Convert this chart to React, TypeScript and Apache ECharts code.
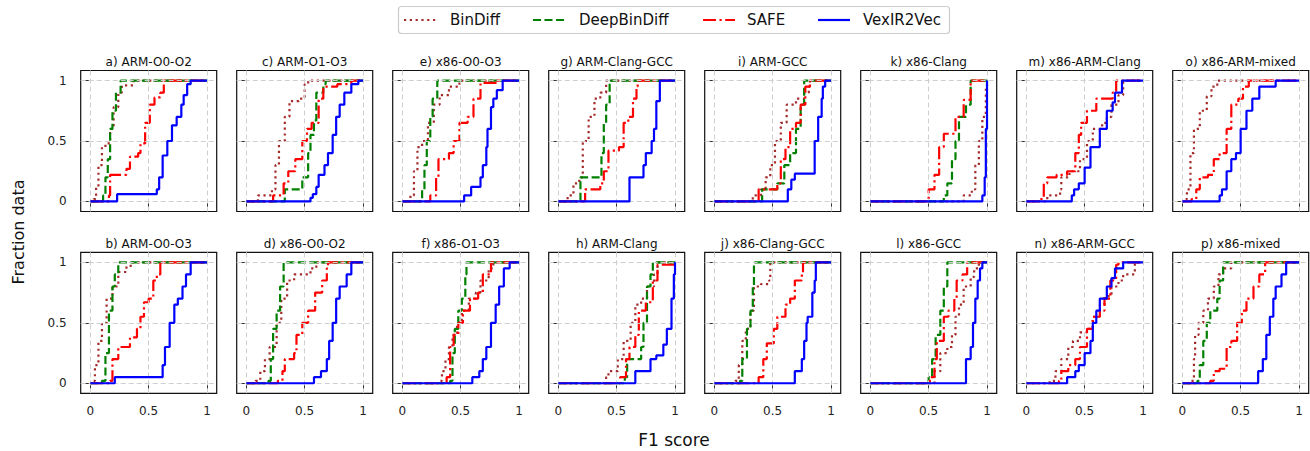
import React, { useEffect, useRef } from 'react';
import * as echarts from 'echarts';

type Pt = [number, number];

const METHODS = ['BinDiff', 'DeepBinDiff', 'SAFE', 'VexIR2Vec'];
const TOP_TITLES = ['a) ARM-O0-O2', 'c) ARM-O1-O3', 'e) x86-O0-O3', 'g) ARM-Clang-GCC', 'i) ARM-GCC', 'k) x86-Clang', 'm) x86-ARM-Clang', 'o) x86-ARM-mixed'];
const BOTTOM_TITLES = ['b) ARM-O0-O3', 'd) x86-O0-O2', 'f) x86-O1-O3', 'h) ARM-Clang', 'j) x86-Clang-GCC', 'l) x86-GCC', 'n) x86-ARM-GCC', 'p) x86-mixed'];
const TICKS = [0, 0.5, 1];
const TICK_LABELS = ['0', '0.5', '1'];

// ---- CDF breakpoints [F1 score, fraction] (each curve starts at (0,0) and ends at (1,1)) ----
const a_BinDiff: Pt[] = [[0.03, 0.02], [0.05, 0.12], [0.07, 0.3], [0.1, 0.45], [0.13, 0.48], [0.17, 0.6], [0.2, 0.78], [0.24, 0.9], [0.27, 0.96], [0.37, 1]];
const a_DeepBinDiff: Pt[] = [[0.11, 0.05], [0.13, 0.2], [0.15, 0.35], [0.17, 0.6], [0.19, 0.75], [0.22, 0.9], [0.26, 1]];
const a_SAFE: Pt[] = [[0.16, 0.05], [0.17, 0.22], [0.31, 0.27], [0.34, 0.37], [0.41, 0.4], [0.43, 0.48], [0.47, 0.65], [0.51, 0.8], [0.55, 0.86], [0.6, 0.9], [0.63, 1]];
const a_VexIR2Vec: Pt[] = [[0.23, 0.06], [0.57, 0.1], [0.59, 0.2], [0.62, 0.38], [0.66, 0.5], [0.7, 0.63], [0.74, 0.7], [0.78, 0.8], [0.8, 0.88], [0.83, 0.97], [0.86, 1]];

const c_BinDiff: Pt[] = [[0.1, 0.05], [0.22, 0.1], [0.25, 0.3], [0.28, 0.5], [0.33, 0.7], [0.37, 0.83], [0.45, 0.85], [0.5, 0.97], [0.53, 1]];
const c_DeepBinDiff: Pt[] = [[0.33, 0.1], [0.48, 0.2], [0.53, 0.4], [0.55, 0.55], [0.58, 0.67], [0.6, 0.9], [0.66, 0.97], [0.68, 1]];
const c_SAFE: Pt[] = [[0.23, 0.05], [0.32, 0.15], [0.36, 0.25], [0.42, 0.35], [0.48, 0.5], [0.52, 0.6], [0.56, 0.65], [0.62, 0.85], [0.66, 0.95], [0.78, 0.97], [0.9, 1]];
const c_VexIR2Vec: Pt[] = [[0.55, 0.03], [0.57, 0.06], [0.6, 0.12], [0.62, 0.22], [0.67, 0.3], [0.7, 0.4], [0.74, 0.55], [0.77, 0.7], [0.8, 0.8], [0.84, 0.9], [0.9, 0.97], [0.96, 1]];

const e_BinDiff: Pt[] = [[0.07, 0.05], [0.1, 0.25], [0.13, 0.45], [0.17, 0.5], [0.22, 0.65], [0.27, 0.8], [0.32, 0.88], [0.4, 0.95], [0.49, 1]];
const e_DeepBinDiff: Pt[] = [[0.17, 0.1], [0.19, 0.3], [0.21, 0.5], [0.24, 0.7], [0.26, 0.85], [0.3, 1]];
const e_SAFE: Pt[] = [[0.24, 0.05], [0.29, 0.2], [0.31, 0.35], [0.4, 0.4], [0.44, 0.5], [0.49, 0.65], [0.56, 0.7], [0.61, 0.85], [0.67, 0.98], [0.81, 1]];
const e_VexIR2Vec: Pt[] = [[0.53, 0.05], [0.59, 0.12], [0.67, 0.2], [0.69, 0.3], [0.72, 0.45], [0.73, 0.6], [0.76, 0.78], [0.78, 0.85], [0.81, 0.92], [0.86, 1]];

const g_BinDiff: Pt[] = [[0.08, 0.05], [0.13, 0.15], [0.18, 0.2], [0.21, 0.5], [0.26, 0.7], [0.31, 0.85], [0.36, 0.9], [0.41, 1]];
const g_DeepBinDiff: Pt[] = [[0.19, 0.2], [0.37, 0.4], [0.39, 0.65], [0.41, 0.8], [0.44, 1]];
const g_SAFE: Pt[] = [[0.23, 0.1], [0.36, 0.15], [0.39, 0.25], [0.43, 0.42], [0.52, 0.45], [0.56, 0.65], [0.6, 0.7], [0.64, 0.85], [0.67, 0.95], [0.68, 1]];
const g_VexIR2Vec: Pt[] = [[0.61, 0.2], [0.73, 0.3], [0.75, 0.4], [0.8, 0.5], [0.82, 0.6], [0.84, 0.83], [0.87, 1]];

const i_BinDiff: Pt[] = [[0.33, 0.05], [0.4, 0.1], [0.44, 0.2], [0.48, 0.3], [0.52, 0.5], [0.57, 0.65], [0.62, 0.8], [0.7, 0.85], [0.77, 0.9], [0.81, 0.95], [0.82, 1]];
const i_DeepBinDiff: Pt[] = [[0.41, 0.1], [0.54, 0.15], [0.6, 0.3], [0.65, 0.4], [0.7, 0.6], [0.74, 0.8], [0.77, 1]];
const i_SAFE: Pt[] = [[0.38, 0.1], [0.54, 0.15], [0.57, 0.35], [0.61, 0.45], [0.65, 0.6], [0.7, 0.65], [0.74, 0.8], [0.78, 0.95], [0.82, 1]];
const i_VexIR2Vec: Pt[] = [[0.63, 0.1], [0.66, 0.18], [0.69, 0.23], [0.86, 0.5], [0.89, 0.7], [0.92, 0.85], [0.93, 0.95], [0.95, 1]];

const k_BinDiff: Pt[] = [[0.8, 0.05], [0.87, 0.1], [0.9, 0.3], [0.93, 0.5], [0.96, 0.7], [0.99, 0.95], [1, 1]];
const k_DeepBinDiff: Pt[] = [[0.63, 0.05], [0.66, 0.15], [0.7, 0.35], [0.73, 0.5], [0.76, 0.7], [0.82, 0.8], [0.86, 1]];
const k_SAFE: Pt[] = [[0.5, 0.1], [0.55, 0.22], [0.59, 0.45], [0.63, 0.56], [0.73, 0.7], [0.8, 0.84], [0.86, 1]];
const k_VexIR2Vec: Pt[] = [[0.96, 0.05], [0.98, 0.2], [0.99, 0.6], [1, 1]];

const m_BinDiff: Pt[] = [[0.18, 0.05], [0.29, 0.1], [0.3, 0.2], [0.37, 0.25], [0.46, 0.35], [0.52, 0.5], [0.57, 0.6], [0.65, 0.65], [0.69, 0.7], [0.73, 0.8], [0.79, 0.88], [0.83, 1]];
const m_SAFE: Pt[] = [[0.1, 0.02], [0.15, 0.15], [0.18, 0.2], [0.26, 0.22], [0.35, 0.25], [0.42, 0.4], [0.45, 0.55], [0.47, 0.65], [0.52, 0.75], [0.6, 0.85], [0.74, 0.9], [0.77, 1]];
const m_VexIR2Vec: Pt[] = [[0.39, 0.05], [0.41, 0.1], [0.45, 0.15], [0.5, 0.28], [0.55, 0.45], [0.63, 0.6], [0.69, 0.75], [0.74, 0.82], [0.76, 0.9], [0.82, 1]];

const o_BinDiff: Pt[] = [[0.02, 0.02], [0.04, 0.1], [0.07, 0.4], [0.1, 0.6], [0.15, 0.75], [0.21, 0.87], [0.25, 0.95], [0.3, 1]];
const o_SAFE: Pt[] = [[0.08, 0.02], [0.12, 0.1], [0.15, 0.2], [0.22, 0.22], [0.27, 0.35], [0.32, 0.4], [0.38, 0.6], [0.42, 0.8], [0.48, 0.85], [0.52, 0.95], [0.57, 1]];
const o_VexIR2Vec: Pt[] = [[0.32, 0.05], [0.34, 0.1], [0.38, 0.25], [0.42, 0.35], [0.46, 0.4], [0.5, 0.6], [0.55, 0.75], [0.6, 0.85], [0.66, 0.95], [0.8, 1]];

const b_BinDiff: Pt[] = [[0.01, 0.02], [0.04, 0.15], [0.07, 0.35], [0.1, 0.5], [0.14, 0.7], [0.19, 0.8], [0.24, 0.92], [0.31, 0.97], [0.36, 1]];
const b_DeepBinDiff: Pt[] = [[0.1, 0.02], [0.13, 0.25], [0.16, 0.6], [0.19, 0.8], [0.21, 0.9], [0.24, 1]];
const b_SAFE: Pt[] = [[0.17, 0.02], [0.19, 0.2], [0.24, 0.3], [0.34, 0.38], [0.4, 0.45], [0.43, 0.55], [0.46, 0.67], [0.5, 0.7], [0.54, 0.85], [0.57, 0.9], [0.6, 1]];
const b_VexIR2Vec: Pt[] = [[0.21, 0.05], [0.62, 0.15], [0.64, 0.3], [0.68, 0.5], [0.72, 0.65], [0.75, 0.7], [0.79, 0.8], [0.82, 0.9], [0.86, 1]];

const d_BinDiff: Pt[] = [[0.08, 0.02], [0.12, 0.1], [0.16, 0.2], [0.2, 0.3], [0.26, 0.5], [0.3, 0.7], [0.35, 0.85], [0.41, 0.9], [0.55, 0.95], [0.6, 1]];
const d_DeepBinDiff: Pt[] = [[0.19, 0.02], [0.21, 0.2], [0.23, 0.45], [0.26, 0.6], [0.29, 0.8], [0.32, 1]];
const d_SAFE: Pt[] = [[0.27, 0.02], [0.31, 0.1], [0.33, 0.2], [0.41, 0.25], [0.43, 0.4], [0.48, 0.5], [0.53, 0.6], [0.59, 0.75], [0.65, 0.85], [0.69, 0.95], [0.7, 1]];
const d_VexIR2Vec: Pt[] = [[0.58, 0.05], [0.64, 0.1], [0.69, 0.2], [0.71, 0.35], [0.74, 0.5], [0.77, 0.7], [0.8, 0.8], [0.86, 0.9], [0.9, 1]];

const f_BinDiff: Pt[] = [[0.31, 0.02], [0.34, 0.1], [0.37, 0.2], [0.4, 0.3], [0.43, 0.4], [0.47, 0.5], [0.51, 0.6], [0.57, 0.7], [0.63, 0.75], [0.67, 0.85], [0.74, 0.95], [0.78, 1]];
const f_DeepBinDiff: Pt[] = [[0.41, 0.02], [0.43, 0.25], [0.45, 0.45], [0.48, 0.6], [0.51, 0.7], [0.54, 0.9], [0.55, 1]];
const f_SAFE: Pt[] = [[0.38, 0.05], [0.41, 0.3], [0.44, 0.4], [0.48, 0.5], [0.52, 0.6], [0.58, 0.7], [0.65, 0.75], [0.69, 0.9], [0.76, 1]];
const f_VexIR2Vec: Pt[] = [[0.6, 0.05], [0.66, 0.1], [0.69, 0.2], [0.72, 0.3], [0.76, 0.5], [0.8, 0.65], [0.83, 0.8], [0.87, 0.95], [0.92, 1]];

const h_BinDiff: Pt[] = [[0.41, 0.05], [0.43, 0.1], [0.51, 0.2], [0.56, 0.35], [0.62, 0.5], [0.66, 0.65], [0.71, 0.7], [0.76, 0.8], [0.82, 0.9], [0.85, 1]];
const h_DeepBinDiff: Pt[] = [[0.57, 0.05], [0.59, 0.2], [0.71, 0.3], [0.73, 0.5], [0.76, 0.8], [0.79, 0.9], [0.81, 1]];
const h_SAFE: Pt[] = [[0.53, 0.05], [0.58, 0.2], [0.61, 0.3], [0.66, 0.4], [0.69, 0.6], [0.75, 0.67], [0.81, 0.85], [0.85, 0.98], [0.99, 1]];
const h_VexIR2Vec: Pt[] = [[0.66, 0.1], [0.79, 0.2], [0.84, 0.23], [0.9, 0.32], [0.93, 0.45], [0.97, 0.7], [0.99, 0.9], [1, 1]];

const j_BinDiff: Pt[] = [[0.18, 0.02], [0.21, 0.15], [0.24, 0.35], [0.27, 0.45], [0.31, 0.6], [0.34, 0.8], [0.4, 0.82], [0.47, 0.85], [0.48, 1]];
const j_DeepBinDiff: Pt[] = [[0.22, 0.02], [0.24, 0.2], [0.28, 0.45], [0.31, 0.6], [0.33, 0.8], [0.34, 1]];
const j_SAFE: Pt[] = [[0.38, 0.05], [0.42, 0.2], [0.45, 0.33], [0.51, 0.45], [0.54, 0.55], [0.61, 0.65], [0.65, 0.7], [0.69, 0.85], [0.75, 0.9], [0.76, 1]];
const j_VexIR2Vec: Pt[] = [[0.69, 0.1], [0.75, 0.2], [0.77, 0.35], [0.79, 0.5], [0.8, 0.55], [0.84, 0.75], [0.86, 0.85], [0.87, 1]];

const l_BinDiff: Pt[] = [[0.55, 0.1], [0.6, 0.25], [0.66, 0.3], [0.7, 0.4], [0.73, 0.55], [0.76, 0.65], [0.8, 0.8], [0.86, 0.88], [0.89, 0.95], [0.93, 1]];
const l_DeepBinDiff: Pt[] = [[0.5, 0.05], [0.53, 0.2], [0.56, 0.4], [0.6, 0.6], [0.63, 0.8], [0.66, 1]];
const l_SAFE: Pt[] = [[0.51, 0.05], [0.55, 0.2], [0.57, 0.35], [0.63, 0.55], [0.67, 0.6], [0.72, 0.7], [0.74, 0.85], [0.79, 0.9], [0.83, 1]];
const l_VexIR2Vec: Pt[] = [[0.82, 0.2], [0.86, 0.3], [0.88, 0.5], [0.9, 0.7], [0.92, 0.85], [0.94, 0.95], [0.96, 1]];

const n_BinDiff: Pt[] = [[0.2, 0.02], [0.25, 0.1], [0.3, 0.2], [0.36, 0.3], [0.4, 0.35], [0.46, 0.42], [0.52, 0.45], [0.57, 0.55], [0.63, 0.65], [0.67, 0.72], [0.73, 0.8], [0.79, 0.85], [0.83, 0.9], [0.93, 1]];
const n_SAFE: Pt[] = [[0.28, 0.02], [0.3, 0.1], [0.36, 0.15], [0.42, 0.2], [0.46, 0.3], [0.52, 0.45], [0.57, 0.55], [0.63, 0.6], [0.67, 0.7], [0.72, 0.85], [0.77, 0.98], [0.79, 1]];
const n_VexIR2Vec: Pt[] = [[0.35, 0.05], [0.42, 0.1], [0.45, 0.15], [0.5, 0.25], [0.55, 0.35], [0.57, 0.5], [0.6, 0.6], [0.63, 0.7], [0.69, 0.8], [0.73, 0.87], [0.76, 0.95], [0.83, 1]];

const p_BinDiff: Pt[] = [[0.07, 0.02], [0.1, 0.2], [0.11, 0.4], [0.14, 0.5], [0.18, 0.6], [0.22, 0.7], [0.27, 0.8], [0.31, 0.9], [0.35, 0.95], [0.42, 1]];
const p_DeepBinDiff: Pt[] = [[0.13, 0.02], [0.15, 0.15], [0.18, 0.35], [0.21, 0.5], [0.24, 0.6], [0.3, 0.7], [0.32, 0.85], [0.35, 1]];
const p_SAFE: Pt[] = [[0.24, 0.02], [0.27, 0.1], [0.32, 0.12], [0.38, 0.3], [0.42, 0.35], [0.47, 0.5], [0.51, 0.6], [0.55, 0.7], [0.61, 0.8], [0.66, 0.9], [0.71, 1]];
const p_VexIR2Vec: Pt[] = [[0.65, 0.1], [0.69, 0.2], [0.72, 0.4], [0.75, 0.55], [0.78, 0.7], [0.8, 0.8], [0.85, 0.9], [0.89, 1]];

// panels in reading order of the two rows (order of METHODS; null = not evaluated)
const TOP_DATA: (Pt[] | null)[][] = [
  [a_BinDiff, a_DeepBinDiff, a_SAFE, a_VexIR2Vec],
  [c_BinDiff, c_DeepBinDiff, c_SAFE, c_VexIR2Vec],
  [e_BinDiff, e_DeepBinDiff, e_SAFE, e_VexIR2Vec],
  [g_BinDiff, g_DeepBinDiff, g_SAFE, g_VexIR2Vec],
  [i_BinDiff, i_DeepBinDiff, i_SAFE, i_VexIR2Vec],
  [k_BinDiff, k_DeepBinDiff, k_SAFE, k_VexIR2Vec],
  [m_BinDiff, null, m_SAFE, m_VexIR2Vec],
  [o_BinDiff, null, o_SAFE, o_VexIR2Vec],
];
const BOTTOM_DATA: (Pt[] | null)[][] = [
  [b_BinDiff, b_DeepBinDiff, b_SAFE, b_VexIR2Vec],
  [d_BinDiff, d_DeepBinDiff, d_SAFE, d_VexIR2Vec],
  [f_BinDiff, f_DeepBinDiff, f_SAFE, f_VexIR2Vec],
  [h_BinDiff, h_DeepBinDiff, h_SAFE, h_VexIR2Vec],
  [j_BinDiff, j_DeepBinDiff, j_SAFE, j_VexIR2Vec],
  [l_BinDiff, l_DeepBinDiff, l_SAFE, l_VexIR2Vec],
  [n_BinDiff, null, n_SAFE, n_VexIR2Vec],
  [p_BinDiff, p_DeepBinDiff, p_SAFE, p_VexIR2Vec],
];

const FONT = 'DejaVu Sans';
const COLORS = ['#a52a2a', '#008000', '#ff0000', '#0000ff'];
const LW = 2.2;
const DASHES: any[] = [[2.2, 3.6], [8, 3.5], [13, 3.5, 2.2, 3.5], 'solid'];
const LEGEND_SAMPLE_X = [404, 533, 703, 818];
const LEGEND_TEXT_X = [450, 579, 747, 863];

function buildOption() {
  const grids: any[] = [];
  const xAxes: any[] = [];
  const yAxes: any[] = [];
  const series: any[] = [];
  const graphics: any[] = [];
  const rows = [
    { titles: TOP_TITLES, data: TOP_DATA, top: 70.5 },
    { titles: BOTTOM_TITLES, data: BOTTOM_DATA, top: 252.3 },
  ];
  const colLeft = 80.7, colStep = 156, gw = 136, gh = 141;
  let gi = 0;
  rows.forEach((row, r) => {
    row.data.forEach((panel, c) => {
      const left = colLeft + colStep * c;
      grids.push({ left, top: row.top, width: gw, height: gh, show: true, borderColor: '#111', borderWidth: 1.2, backgroundColor: 'transparent', containLabel: false });
      xAxes.push({
        gridIndex: gi, type: 'value', min: -0.082, max: 1.083,
        axisLine: { show: false }, splitLine: { show: false },
        axisTick: { show: true, customValues: TICKS, length: 9, lineStyle: { color: '#333', width: 1 } },
        axisLabel: { show: r === 1, customValues: TICKS, margin: 12, fontSize: 12, color: '#222', fontFamily: FONT,
          formatter: (v: number) => TICK_LABELS[TICKS.indexOf(v)] ?? String(v) },
      });
      yAxes.push({
        gridIndex: gi, type: 'value', min: -0.083, max: 1.083,
        axisLine: { show: false }, splitLine: { show: false },
        axisTick: { show: true, customValues: TICKS, length: 9, lineStyle: { color: '#333', width: 1 } },
        axisLabel: { show: c === 0, customValues: TICKS, margin: 14, fontSize: 12, color: '#222', fontFamily: FONT,
          formatter: (v: number) => TICK_LABELS[TICKS.indexOf(v)] ?? String(v) },
      });
      series.push({
        name: 'grid', type: 'line', xAxisIndex: gi, yAxisIndex: gi, data: [[0, 0]], symbol: 'none', silent: true, z: 1,
        lineStyle: { opacity: 0 },
        markLine: {
          silent: true, symbol: ['none', 'none'], label: { show: false }, animation: false,
          lineStyle: { color: '#cfcfcf', type: [5, 3], width: 1 },
          data: [...TICKS.map((t) => ({ xAxis: t })), ...TICKS.map((t) => ({ yAxis: t }))],
        },
      });
      panel.forEach((pts, k) => {
        if (!pts) return;
        series.push({
          name: METHODS[k], type: 'line', xAxisIndex: gi, yAxisIndex: gi, step: 'end',
          data: [[0, 0], ...pts, [1, 1]], symbol: 'none', showSymbol: false, z: 2 + k,
          lineStyle: { color: COLORS[k], width: LW, type: DASHES[k], cap: 'butt' },
          itemStyle: { color: COLORS[k] },
        });
      });
      graphics.push({
        type: 'text', x: left + gw / 2, y: row.top - 2.5,
        style: { text: row.titles[c], textAlign: 'center', textVerticalAlign: 'bottom', fontSize: 12, fontFamily: FONT, fill: '#111' },
      });
      gi++;
    });
  });
  graphics.push({
    type: 'text', x: 18, y: 232, rotation: Math.PI / 2,
    style: { text: 'Fraction data', textAlign: 'center', textVerticalAlign: 'middle', fontSize: 16, fontFamily: FONT, fill: '#111' },
  });
  graphics.push({
    type: 'text', x: 674, y: 440,
    style: { text: 'F1 score', textAlign: 'center', textVerticalAlign: 'middle', fontSize: 17, fontFamily: FONT, fill: '#111' },
  });
  // legend box
  graphics.push({
    type: 'rect', shape: { x: 398.5, y: 6.5, width: 551, height: 27, r: 3 },
    style: { fill: '#fff', stroke: '#cccccc', lineWidth: 1.2 }, z: 10,
  });
  METHODS.forEach((name, k) => {
    graphics.push({
      type: 'line', shape: { x1: LEGEND_SAMPLE_X[k], y1: 20, x2: LEGEND_SAMPLE_X[k] + 32, y2: 20 },
      style: { stroke: COLORS[k], lineWidth: LW, lineDash: DASHES[k] === 'solid' ? null : DASHES[k], lineCap: 'butt' }, z: 11,
    });
    graphics.push({
      type: 'text', x: LEGEND_TEXT_X[k], y: 20,
      style: { text: name, textAlign: 'left', textVerticalAlign: 'middle', fontSize: 15, fontFamily: FONT, fill: '#111' }, z: 11,
    });
  });
  return {
    animation: false,
    backgroundColor: '#fff',
    grid: grids, xAxis: xAxes, yAxis: yAxes, series, graphic: graphics,
  };
}

export default function App() {
  const ref = useRef<HTMLDivElement>(null);
  useEffect(() => {
    if (!ref.current) return;
    const chart = echarts.init(ref.current, undefined, { renderer: 'svg' });
    chart.setOption(buildOption() as any);
    return () => chart.dispose();
  }, []);
  return <div ref={ref} style={{ position: 'fixed', left: 0, top: 0, width: 1310, height: 451, background: '#fff' }} />;
}
